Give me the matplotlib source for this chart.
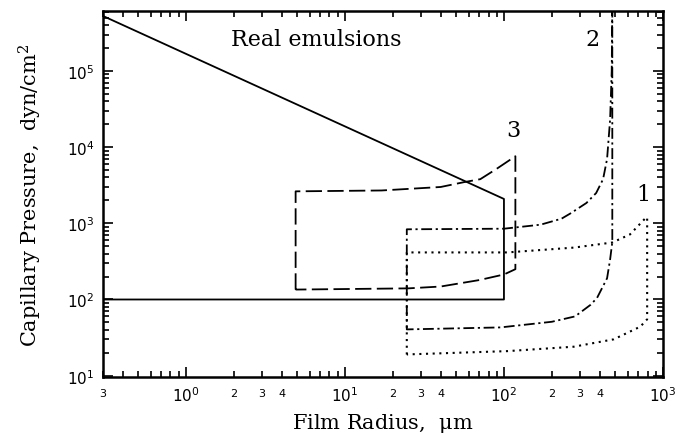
import matplotlib
matplotlib.use("Agg")
import matplotlib.pyplot as plt
import numpy as np
from matplotlib.ticker import LogLocator, FuncFormatter, NullFormatter

plt.rcParams['mathtext.default'] = 'regular'

# "Real emulsions" region (solid)
real_x = [0.3, 0.3, 100, 100, 0.3]
real_y = [100, 5.3e5, 2090, 100, 100]

# curve 3 (dashed)
c3_x = [4.9, 4.9, 17, 40, 56, 71, 90, 118, 118, 100, 70, 40, 25, 4.9]
c3_y = [135, 2630, 2700, 3000, 3470, 3800, 5200, 7600, 250, 213, 180, 148, 140, 135]

# curve 2 (dash-dot)
c2_x = [480, 480, 478, 465, 445, 420, 385, 350, 280, 200, 95, 24.5,
        24.5, 100, 170, 230, 262, 330, 380, 420, 445, 465, 476, 480]
c2_y = [7e5, 560, 530, 335, 190, 150, 105, 85, 60, 51, 43, 40.5,
        835, 850, 960, 1150, 1350, 1850, 2500, 3800, 7000, 23000, 1e5, 7e5]

# curve 1 (dotted)
c1_x = [24.5, 24.5, 105, 275, 480, 620, 785, 795, 795, 720, 490, 275, 105, 24.5]
c1_y = [19, 415, 415, 480, 560, 715, 1200, 1200, 55, 44, 30, 24, 21, 19]

fig = plt.figure(figsize=(6.8, 4.35), dpi=100)
ax = fig.add_axes([0.151, 0.131, 0.824, 0.841])

ax.plot(real_x, real_y, color='k', lw=1.3, ls='-')
ax.plot(c3_x, c3_y, color='k', lw=1.3, ls=(0, (9, 3)))
ax.plot(c2_x, c2_y, color='k', lw=1.3, ls=(0, (6, 2, 1.2, 2)))
ax.plot(c1_x, c1_y, color='k', lw=1.5, ls=(0, (1, 2.2)))

ax.set_xscale('log')
ax.set_yscale('log')
ax.set_xlim(0.3, 1000)
ax.set_ylim(9.6, 6.1e5)

serif = ['DejaVu Serif']
ax.text(6.6, 2.6e5, 'Real emulsions', fontsize=16, family=serif, ha='center', va='center')
ax.text(115, 1.7e4, '3', fontsize=16, family=serif, ha='center', va='center')
ax.text(360, 2.6e5, '2', fontsize=16, family=serif, ha='center', va='center')
ax.text(750, 2400, '1', fontsize=16, family=serif, ha='center', va='center')

ax.set_xlabel(r'Film Radius,  $\mu$m', fontsize=15, family=serif, labelpad=5)
ax.set_ylabel('Capillary Pressure,  dyn/cm$^2$', fontsize=15, family=serif, labelpad=16)

ax.xaxis.set_major_locator(LogLocator(base=10, numticks=10))
ax.yaxis.set_major_locator(LogLocator(base=10, numticks=10))
ax.xaxis.set_minor_locator(LogLocator(base=10, subs=np.arange(2, 10), numticks=20))
ax.yaxis.set_minor_locator(LogLocator(base=10, subs=np.arange(2, 10), numticks=20))


def minor_label(v, pos):
    m = v / 10 ** np.floor(np.log10(v) + 1e-9)
    d = int(round(m))
    if d in (2, 3, 4) and abs(m - d) < 1e-6:
        if v < 1 and d != 3:
            return ''
        return str(d)
    return ''


ax.xaxis.set_minor_formatter(FuncFormatter(minor_label))
ax.yaxis.set_minor_formatter(NullFormatter())

ax.tick_params(which='both', direction='in', top=True, right=True, width=1.2)
ax.tick_params(which='major', length=7, labelsize=11, pad=6)
ax.tick_params(which='minor', length=4, labelsize=8)
ax.tick_params(axis='x', which='minor', pad=8)
for s in ax.spines.values():
    s.set_linewidth(1.8)

fig.savefig('out.png', dpi=100)
